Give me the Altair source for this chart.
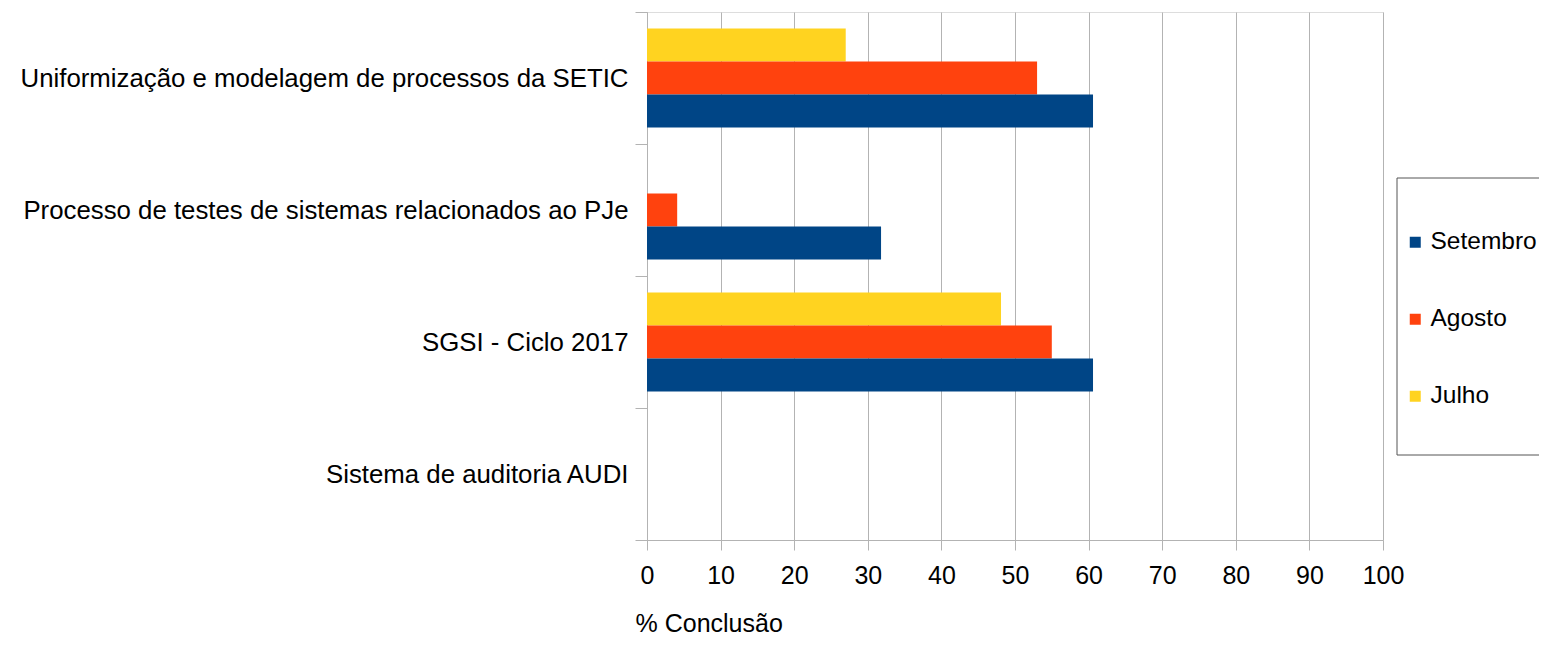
import altair as alt
import pandas as pd

categorias = [
    "Uniformização e modelagem de processos da SETIC",
    "Processo de testes de sistemas relacionados ao PJe",
    "SGSI - Ciclo 2017",
    "Sistema de auditoria AUDI",
]
meses = ["Setembro", "Agosto", "Julho"]
cores = ["#004586", "#ff420e", "#ffd320"]

julho = [27.0, 0.0, 48.1, 0.0]
agosto = [53.0, 4.1, 55.0, 0.0]
setembro = [60.6, 31.8, 60.6, 0.0]

rows = []
for i, c in enumerate(categorias):
    rows.append({"Categoria": c, "Mês": "Julho", "Valor": julho[i]})
    rows.append({"Categoria": c, "Mês": "Agosto", "Valor": agosto[i]})
    rows.append({"Categoria": c, "Mês": "Setembro", "Valor": setembro[i]})
df = pd.DataFrame(rows)
df = df[df["Valor"] > 0]

FONT = "Liberation Sans"
GRAY = "#b3b3b3"

bars = alt.Chart(df).mark_bar(clip=False).encode(
    x=alt.X(
        "Valor:Q",
        scale=alt.Scale(domain=[0, 100], nice=False, zero=True),
        axis=alt.Axis(
            values=list(range(0, 101, 10)),
            title="% Conclusão",
            titleFontSize=25,
            titleFontWeight="normal",
            titleFont=FONT,
            titleColor="#000000",
            titleAnchor="start",
            titleAlign="left",
            titleBaseline="alphabetic",
            titleX=-12,
            titleY=91.5,
            labelFontSize=25,
            labelFont=FONT,
            labelColor="#000000",
            labelPadding=13,
            tickSize=10,
            tickColor=GRAY,
            domainColor=GRAY,
            grid=True,
            gridColor=GRAY,
            gridOpacity=1,
            labelFlush=False,
        ),
    ),
    y=alt.Y(
        "Categoria:N",
        sort=categorias,
        scale=alt.Scale(domain=categorias, paddingInner=0, paddingOuter=0),
        axis=alt.Axis(
            title=None,
            labelFontSize=25.8,
            labelFont=FONT,
            labelColor="#000000",
            labelPadding=7,
            tickSize=12,
            tickColor=GRAY,
            tickBand="extent",
            domainColor=GRAY,
            grid=False,
            labelLimit=0,
        ),
    ),
    yOffset=alt.YOffset(
        "Mês:N",
        sort=["Julho", "Agosto", "Setembro"],
        scale=alt.Scale(domain=["Julho", "Agosto", "Setembro"], paddingInner=0, paddingOuter=0.5),
    ),
    color=alt.Color(
        "Mês:N",
        scale=alt.Scale(domain=meses, range=cores),
        legend=alt.Legend(
            orient="none",
            legendX=756,
            legendY=218,
            title=None,
            labelFontSize=24.5,
            labelFont=FONT,
            labelColor="#000000",
            symbolType="square",
            symbolSize=121,
            symbolStrokeWidth=0,
            symbolOpacity=1,
            rowPadding=52,
            labelOffset=3,
            padding=0,
        ),
    ),
)

box = alt.Chart(pd.DataFrame({"k": [0]})).mark_rect(
    fill="white", fillOpacity=0, stroke="#555555", strokeWidth=1
).encode(
    x=alt.value(750),
    x2=alt.value(930),
    y=alt.value(166),
    y2=alt.value(443),
)

chart = alt.layer(box, bars).properties(
    width=736,
    height=528,
    autosize=alt.AutoSizeParams(type="none"),
    padding={"left": 639, "top": 4, "right": 156, "bottom": 97},
    background="white",
).configure_view(
    stroke=GRAY, strokeWidth=1
).configure(font=FONT)

chart.save("out.html", embed_options={"renderer": "svg", "actions": False})
